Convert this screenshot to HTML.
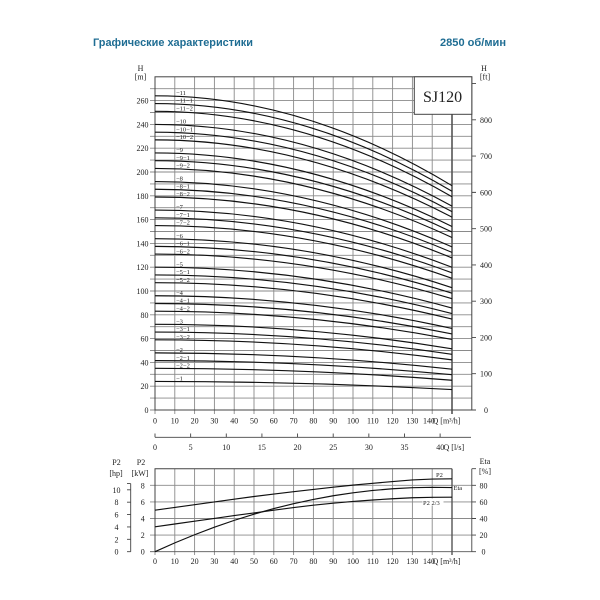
<!DOCTYPE html>
<html><head><meta charset="utf-8"><style>
html,body{margin:0;padding:0;background:#fff;}
svg{display:block;}
.s{font-family:"Liberation Serif",serif;fill:#222;}
</style></head><body>
<svg width="600" height="600" viewBox="0 0 600 600" xmlns="http://www.w3.org/2000/svg">
<rect width="600" height="600" fill="#fff"/>
<text x="93" y="46" font-family="Liberation Sans, sans-serif" font-weight="bold" font-size="11" fill="#1f6d93" textLength="160" lengthAdjust="spacingAndGlyphs">Графические характеристики</text>
<text x="440" y="46" font-family="Liberation Sans, sans-serif" font-weight="bold" font-size="11" fill="#1f6d93" textLength="66" lengthAdjust="spacingAndGlyphs">2850 об/мин</text>

<!-- TOP CHART GRID -->
<g stroke="#8a8a8a" stroke-width="0.9" fill="none">
<path d="M174.8,76.8V414M194.6,76.8V414M214.4,76.8V414M234.2,76.8V414M254,76.8V414M273.8,76.8V414M293.6,76.8V414M313.4,76.8V414M333.2,76.8V414M353,76.8V414M372.8,76.8V414M392.6,76.8V414M412.4,76.8V414M432.2,76.8V414M155,410V414"/>
<path d="M150,410H471.8M150,398.1H471.8M150,386.2H471.8M150,374.3H471.8M150,362.4H471.8M150,350.5H471.8M150,338.6H471.8M150,326.7H471.8M150,314.8H471.8M150,302.9H471.8M150,291H471.8M150,279.1H471.8M150,267.2H471.8M150,255.3H471.8M150,243.4H471.8M150,231.5H471.8M150,219.6H471.8M150,207.7H471.8M150,195.8H471.8M150,183.9H471.8M150,172H471.8M150,160.1H471.8M150,148.2H471.8M150,136.3H471.8M150,124.4H471.8M150,112.5H471.8M150,100.6H471.8M150,88.7H471.8"/>
</g>
<path d="M452,76.8V414" stroke="#555" stroke-width="1.6"/>
<rect x="155" y="76.8" width="316.8" height="333.2" fill="none" stroke="#444" stroke-width="1"/>
<!-- ft ticks -->
<path d="M471.8,410H476M471.8,373.73H476M471.8,337.46H476M471.8,301.19H476M471.8,264.92H476M471.8,228.65H476M471.8,192.38H476M471.8,156.11H476M471.8,119.84H476M471.8,83.57H476" stroke="#444" stroke-width="0.9"/>

<!-- SJ120 box -->
<rect x="414.3" y="76.8" width="57.5" height="37.5" fill="#fff" stroke="#444" stroke-width="1"/>
<text x="442.5" y="102" text-anchor="middle" class="s" font-size="16" fill="#111">SJ120</text>

<!-- curves -->
<g stroke="#111" stroke-width="1.15" fill="none">
<path d="M155,381.44Q303.5,381.44 452,389.61"/>
<path d="M155,352.88Q303.5,352.88 452,369.22"/>
<path d="M155,360.62Q303.5,360.62 452,374.74"/>
<path d="M155,368.35Q303.5,368.35 452,380.26"/>
<path d="M155,324.32Q303.5,324.32 452,348.82"/>
<path d="M155,332.06Q303.5,332.06 452,354.35"/>
<path d="M155,339.79Q303.5,339.79 452,359.87"/>
<path d="M155,295.76Q303.5,295.76 452,328.43"/>
<path d="M155,303.5Q303.5,303.5 452,333.96"/>
<path d="M155,311.23Q303.5,311.23 452,339.48"/>
<path d="M155,267.2Q303.5,267.2 452,308.04"/>
<path d="M155,274.94Q303.5,274.94 452,313.56"/>
<path d="M155,282.67Q303.5,282.67 452,319.09"/>
<path d="M155,238.64Q303.5,238.64 452,287.65"/>
<path d="M155,246.38Q303.5,246.38 452,293.17"/>
<path d="M155,254.11Q303.5,254.11 452,298.69"/>
<path d="M155,210.08Q303.5,210.08 452,267.26"/>
<path d="M155,217.82Q303.5,217.82 452,272.78"/>
<path d="M155,225.55Q303.5,225.55 452,278.3"/>
<path d="M155,181.52Q303.5,181.52 452,246.87"/>
<path d="M155,189.26Q303.5,189.26 452,252.39"/>
<path d="M155,196.99Q303.5,196.99 452,257.91"/>
<path d="M155,152.96Q303.5,152.96 452,226.47"/>
<path d="M155,160.7Q303.5,160.7 452,232"/>
<path d="M155,168.43Q303.5,168.43 452,237.52"/>
<path d="M155,124.4Q303.5,124.4 452,206.08"/>
<path d="M155,132.14Q303.5,132.14 452,211.6"/>
<path d="M155,139.87Q303.5,139.87 452,217.13"/>
<path d="M155,95.84Q303.5,95.84 452,185.69"/>
<path d="M155,103.58Q303.5,103.58 452,191.21"/>
<path d="M155,111.31Q303.5,111.31 452,196.74"/>
</g>

<!-- curve labels -->
<g class="s" font-size="6.5" fill="#333">
<text x="176" y="380.6">−1</text>
<text x="176" y="352">−2</text>
<text x="176" y="359.8">−2−1</text>
<text x="176" y="367.5">−2−2</text>
<text x="176" y="323.5">−3</text>
<text x="176" y="331.2">−3−1</text>
<text x="176" y="339">−3−2</text>
<text x="176" y="294.9">−4</text>
<text x="176" y="302.7">−4−1</text>
<text x="176" y="310.4">−4−2</text>
<text x="176" y="266.4">−5</text>
<text x="176" y="274.1">−5−1</text>
<text x="176" y="281.8">−5−2</text>
<text x="176" y="237.8">−6</text>
<text x="176" y="245.5">−6−1</text>
<text x="176" y="253.3">−6−2</text>
<text x="176" y="209.2">−7</text>
<text x="176" y="217">−7−1</text>
<text x="176" y="224.7">−7−2</text>
<text x="176" y="180.7">−8</text>
<text x="176" y="188.4">−8−1</text>
<text x="176" y="196.1">−8−2</text>
<text x="176" y="152.1">−9</text>
<text x="176" y="159.9">−9−1</text>
<text x="176" y="167.6">−9−2</text>
<text x="176" y="123.6">−10</text>
<text x="176" y="131.3">−10−1</text>
<text x="176" y="139">−10−2</text>
<text x="176" y="95">−11</text>
<text x="176" y="102.7">−11−1</text>
<text x="176" y="110.5">−11−2</text>
</g>

<!-- left axis labels -->
<g class="s" font-size="8" text-anchor="end">
<text x="148.5" y="413">0</text>
<text x="148.5" y="389.2">20</text>
<text x="148.5" y="365.4">40</text>
<text x="148.5" y="341.6">60</text>
<text x="148.5" y="317.8">80</text>
<text x="148.5" y="294">100</text>
<text x="148.5" y="270.2">120</text>
<text x="148.5" y="246.4">140</text>
<text x="148.5" y="222.6">160</text>
<text x="148.5" y="198.8">180</text>
<text x="148.5" y="175">200</text>
<text x="148.5" y="151.2">220</text>
<text x="148.5" y="127.4">240</text>
<text x="148.5" y="103.6">260</text>
</g>
<g class="s" font-size="8" text-anchor="middle">
<text x="140.5" y="71">H</text>
<text x="140.5" y="79.5">[m]</text>
<text x="484" y="71">H</text>
<text x="485" y="79.5">[ft]</text>
<text x="486" y="413">0</text>
<text x="486" y="376.7">100</text>
<text x="486" y="340.5">200</text>
<text x="486" y="304.2">300</text>
<text x="486" y="267.9">400</text>
<text x="486" y="231.6">500</text>
<text x="486" y="195.4">600</text>
<text x="486" y="159.1">700</text>
<text x="486" y="122.8">800</text>
</g>

<!-- Q axis labels top -->
<g class="s" font-size="8" text-anchor="middle">
<text x="155" y="423.5">0</text>
<text x="174.8" y="423.5">10</text>
<text x="194.6" y="423.5">20</text>
<text x="214.4" y="423.5">30</text>
<text x="234.2" y="423.5">40</text>
<text x="254" y="423.5">50</text>
<text x="273.8" y="423.5">60</text>
<text x="293.6" y="423.5">70</text>
<text x="313.4" y="423.5">80</text>
<text x="333.2" y="423.5">90</text>
<text x="353" y="423.5">100</text>
<text x="372.8" y="423.5">110</text>
<text x="392.6" y="423.5">120</text>
<text x="412.4" y="423.5">130</text>
<text x="429" y="423.5">140</text>
</g>
<text x="432.5" y="423.5" class="s" font-size="8">Q [m³/h]</text>

<!-- l/s axis -->
<path d="M155,437.3H471" stroke="#444" stroke-width="0.9"/>
<path d="M155,433.5V437.3M190.64,433.5V437.3M226.28,433.5V437.3M261.92,433.5V437.3M297.56,433.5V437.3M333.2,433.5V437.3M368.84,433.5V437.3M404.48,433.5V437.3M440.12,433.5V437.3" stroke="#444" stroke-width="0.9"/>
<g class="s" font-size="8" text-anchor="middle">
<text x="155" y="450">0</text>
<text x="190.64" y="450">5</text>
<text x="226.28" y="450">10</text>
<text x="261.92" y="450">15</text>
<text x="297.56" y="450">20</text>
<text x="333.2" y="450">25</text>
<text x="368.84" y="450">30</text>
<text x="404.48" y="450">35</text>
<text x="440.3" y="450">40</text>
</g>
<text x="443.5" y="450" class="s" font-size="8">Q [l/s]</text>

<!-- BOTTOM CHART -->
<g stroke="#8a8a8a" stroke-width="0.9" fill="none">
<path d="M174.8,468.7V555M194.6,468.7V555M214.4,468.7V555M234.2,468.7V555M254,468.7V555M273.8,468.7V555M293.6,468.7V555M313.4,468.7V555M333.2,468.7V555M353,468.7V555M372.8,468.7V555M392.6,468.7V555M412.4,468.7V555M432.2,468.7V555M155,551.7V555"/>
<path d="M150,535.1H471.8M150,518.5H471.8M150,501.9H471.8M150,485.3H471.8"/>
</g>
<path d="M150,551.7H471.8" stroke="#555" stroke-width="0.9"/>
<path d="M452,468.7V555" stroke="#555" stroke-width="1.4"/>
<path d="M155,551.7V468.7H452" stroke="#444" stroke-width="1" fill="none"/>
<path d="M471.8,468.7V551.7M471.8,468.7H476M471.8,485.3H476M471.8,501.9H476M471.8,518.5H476M471.8,535.1H476M471.8,551.7H476" stroke="#444" stroke-width="0.9" fill="none"/>
<!-- hp axis -->
<path d="M130.7,483.6V551.7M127,551.7H130.7M127,539.32H130.7M127,526.94H130.7M127,514.56H130.7M127,502.18H130.7M127,489.8H130.7M127,483.6H130.7" stroke="#444" stroke-width="0.9" fill="none"/>

<!-- bottom curves -->
<g stroke="#111" stroke-width="1.15" fill="none">
<polyline points="155,510.2 174.8,507.4 194.6,504.64 214.4,501.9 234.2,499.16 254,496.5 273.8,494.01 293.6,491.7 313.4,489.45 333.2,487.2 353,485.13 372.8,483.3 392.6,481.56 412.4,479.9 432.2,479.07 452,478.83"/>
<polyline points="155,526.8 174.8,524 194.6,521.16 214.4,518.4 234.2,515.6 254,512.9 273.8,510.2 293.6,507.6 313.4,505.22 333.2,503.2 353,501.48 372.8,500 392.6,498.75 412.4,497.75 432.2,497.33 452,497.17"/>
<polyline points="155,551.7 174.8,542.89 194.6,534.73 214.4,527.22 234.2,520.36 254,514.14 273.8,508.57 293.6,503.65 313.4,499.38 333.2,495.75 353,492.77 372.8,490.44 392.6,488.75 412.4,487.72 432.2,487.33 452,487.58"/>
</g>
<rect x="422.5" y="498.5" width="21" height="7" fill="#fff"/>
<g class="s" font-size="6.5" fill="#333">
<text x="436" y="477">P2</text>
<text x="453.5" y="490">Eta</text>
<text x="423" y="505">P2  2/3</text>
</g>

<!-- bottom axis labels -->
<g class="s" font-size="8" text-anchor="middle">
<text x="142.7" y="554.7">0</text>
<text x="142.7" y="538.1">2</text>
<text x="142.7" y="521.5">4</text>
<text x="142.7" y="504.9">6</text>
<text x="142.7" y="488.3">8</text>
<text x="141" y="465">P2</text>
<text x="140" y="476">[kW]</text>
<text x="116.5" y="554.7">0</text>
<text x="116.5" y="542.3">2</text>
<text x="116.5" y="529.9">4</text>
<text x="116.5" y="517.6">6</text>
<text x="116.5" y="505.2">8</text>
<text x="116.5" y="492.8">10</text>
<text x="116.5" y="465">P2</text>
<text x="116" y="476">[hp]</text>
<text x="483.5" y="554.7">0</text>
<text x="483.5" y="538.1">20</text>
<text x="483.5" y="521.5">40</text>
<text x="483.5" y="504.9">60</text>
<text x="483.5" y="488.3">80</text>
<text x="485" y="464">Eta</text>
<text x="485" y="474">[%]</text>
<text x="155" y="564">0</text>
<text x="174.8" y="564">10</text>
<text x="194.6" y="564">20</text>
<text x="214.4" y="564">30</text>
<text x="234.2" y="564">40</text>
<text x="254" y="564">50</text>
<text x="273.8" y="564">60</text>
<text x="293.6" y="564">70</text>
<text x="313.4" y="564">80</text>
<text x="333.2" y="564">90</text>
<text x="353" y="564">100</text>
<text x="372.8" y="564">110</text>
<text x="392.6" y="564">120</text>
<text x="412.4" y="564">130</text>
<text x="429" y="564">140</text>
</g>
<text x="432.5" y="564" class="s" font-size="8">Q [m³/h]</text>
</svg>
</body></html>
